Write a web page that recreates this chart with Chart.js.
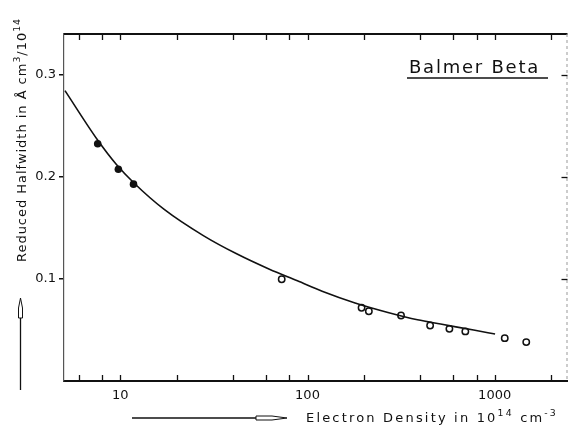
<!DOCTYPE html>
<html>
<head>
<meta charset="utf-8">
<script src="https://cdn.jsdelivr.net/npm/chart.js@4/dist/chart.umd.min.js"></script>
<style>
  html, body { margin: 0; padding: 0; background: #fff; }
  #wrap { width: 573px; height: 426px; }
</style>
</head>
<body>
<div id="wrap"><canvas id="chart" width="573" height="426"></canvas></div>
<script>
// fitted curve for the Balmer beta reduced halfwidth
const fitDensity = [5.06, 7.56, 9.53, 11.9, 17.15, 27.9, 41.8, 62.6, 88.3, 119.7, 179.5, 269, 387, 514, 772, 1005];
const fitWidth = [0.2845, 0.2361, 0.2121, 0.1935, 0.1681, 0.1422, 0.1246, 0.1095, 0.0982, 0.0880, 0.0765, 0.0672, 0.0600, 0.0558, 0.0499, 0.0460];

// measured points (filled = low density set, open = high density set)
const filledDensity = [7.57, 9.76, 11.76];
const filledWidth = [0.2324, 0.2075, 0.1929];
const openDensity = [72.8, 194.5, 212.7, 316, 452, 573, 697, 1132, 1475];
const openWidth = [0.0997, 0.0717, 0.0684, 0.0642, 0.0544, 0.0511, 0.0486, 0.0420, 0.0381];

// axes
const xTickValues = [6, 8, 10, 20, 40, 60, 80, 100, 200, 400, 600, 800, 1000, 2000];
const xLabelValues = [10, 100, 1000];
const xLabelTexts = ["10", "100", "1000"];
const yTickValues = [0.1, 0.2, 0.3];
const yLabelTexts = ["0.1", "0.2", "0.3"];

const FONT = "'DejaVu Sans', sans-serif";
const INK = "#111";

const toPoints = (xs, ys) => xs.map((x, i) => ({ x: x, y: ys[i] }));

// draws text runs with superscripts, stretched to a given length
function drawRuns(ctx, runs, x, y, size, length) {
    const measure = () => {
        let w = 0;
        runs.forEach((r) => {
            ctx.font = (r.sup ? size * 0.72 : size) + "px " + FONT;
            w += ctx.measureText(r.t).width;
        });
        return w;
    };
    ctx.letterSpacing = "0px";
    const chars = runs.reduce((n, r) => n + r.t.length, 0);
    const spacing = Math.max(0, (length - measure()) / chars);
    ctx.letterSpacing = spacing + "px";
    let cx = x;
    runs.forEach((r) => {
        ctx.font = (r.sup ? size * 0.72 : size) + "px " + FONT;
        ctx.fillText(r.t, cx, r.sup ? y - size * 0.48 : y);
        cx += ctx.measureText(r.t).width;
    });
    ctx.letterSpacing = "0px";
}

const frame = {
    id: "frame",
    afterDraw: (chart) => {
        const { ctx, chartArea } = chart;
        const xs = chart.scales.x;
        const ys = chart.scales.y;
        const { left, right, top, bottom } = chartArea;
        ctx.save();
        ctx.strokeStyle = INK;
        ctx.fillStyle = INK;

        // top and right frame
        ctx.lineWidth = 2;
        ctx.beginPath();
        ctx.moveTo(left, top);
        ctx.lineTo(right, top);
        ctx.stroke();
        ctx.lineWidth = 1;
        ctx.strokeStyle = "#999";
        ctx.setLineDash([3, 3]);
        ctx.beginPath();
        ctx.moveTo(right - 0.5, top);
        ctx.lineTo(right - 0.5, bottom);
        ctx.stroke();
        ctx.setLineDash([]);
        ctx.strokeStyle = INK;

        // inward minor ticks, bottom and top
        ctx.lineWidth = 1.3;
        xTickValues.forEach((v) => {
            const px = Math.round(xs.getPixelForValue(v)) + 0.5;
            ctx.beginPath();
            ctx.moveTo(px, bottom);
            ctx.lineTo(px, bottom - 6);
            ctx.moveTo(px, top);
            ctx.lineTo(px, top + 6);
            ctx.stroke();
        });
        // inward ticks on the right
        yTickValues.forEach((v) => {
            const py = Math.round(ys.getPixelForValue(v)) + 0.5;
            ctx.beginPath();
            ctx.moveTo(right, py);
            ctx.lineTo(right - 6, py);
            ctx.stroke();
        });

        // series label
        ctx.textBaseline = "alphabetic";
        ctx.textAlign = "left";
        drawRuns(ctx, [{ t: "Balmer Beta" }], 409, 73, 18, 131);
        ctx.lineWidth = 1.6;
        ctx.beginPath();
        ctx.moveTo(407, 78);
        ctx.lineTo(548, 78);
        ctx.stroke();

        // x axis title with arrow
        drawRuns(ctx, [
            { t: "Electron Density in 10" },
            { t: "14", sup: true },
            { t: " cm" },
            { t: "-3", sup: true },
        ], 306, 422, 13, 252);
        ctx.lineWidth = 1.3;
        ctx.beginPath();
        ctx.moveTo(132, 418);
        ctx.lineTo(256, 418);
        ctx.stroke();
        ctx.lineWidth = 1;
        ctx.beginPath();
        ctx.moveTo(256, 416);
        ctx.lineTo(272, 416);
        ctx.lineTo(287, 418);
        ctx.lineTo(272, 420);
        ctx.lineTo(256, 420);
        ctx.closePath();
        ctx.stroke();

        // y axis title with arrow
        ctx.save();
        ctx.translate(26, 262);
        ctx.rotate(-Math.PI / 2);
        drawRuns(ctx, [
            { t: "Reduced Halfwidth in Å cm" },
            { t: "3", sup: true },
            { t: "/10" },
            { t: "14", sup: true },
        ], 0, 0, 13, 244);
        ctx.restore();
        ctx.lineWidth = 1.3;
        ctx.beginPath();
        ctx.moveTo(20.5, 390);
        ctx.lineTo(20.5, 318);
        ctx.stroke();
        ctx.lineWidth = 1;
        ctx.beginPath();
        ctx.moveTo(18.5, 318);
        ctx.lineTo(18.5, 308);
        ctx.lineTo(20.5, 298);
        ctx.lineTo(22.5, 308);
        ctx.lineTo(22.5, 318);
        ctx.closePath();
        ctx.stroke();

        ctx.restore();
    },
};

new Chart(document.getElementById("chart"), {
    type: "scatter",
    data: {
        datasets: [
            {
                label: "fit",
                data: toPoints(fitDensity, fitWidth),
                showLine: true,
                borderColor: INK,
                borderWidth: 1.6,
                pointRadius: 0,
                cubicInterpolationMode: "monotone",
            },
            {
                label: "filled",
                data: toPoints(filledDensity, filledWidth),
                pointRadius: 3.8,
                pointBackgroundColor: INK,
                pointBorderColor: INK,
                pointBorderWidth: 0,
            },
            {
                label: "open",
                data: toPoints(openDensity, openWidth),
                pointRadius: 3.2,
                pointBackgroundColor: "#fff",
                pointBorderColor: INK,
                pointBorderWidth: 1.5,
            },
        ],
    },
    options: {
        responsive: false,
        animation: false,
        layout: { padding: { top: 34, right: 1, left: 0, bottom: 0 } },
        plugins: {
            legend: { display: false },
            tooltip: { enabled: false },
        },
        scales: {
            x: {
                type: "logarithmic",
                min: 5,
                max: 2450,
                afterFit: (s) => { s.height = 45; },
                afterBuildTicks: (s) => {
                    s.ticks = xLabelValues.map((v) => ({ value: v }));
                },
                grid: { display: false, drawTicks: false },
                border: { display: true, color: INK, width: 2 },
                ticks: {
                    autoSkip: false,
                    maxRotation: 0,
                    padding: 7,
                    color: INK,
                    font: { family: FONT, size: 13 },
                    callback: (v) => xLabelTexts[xLabelValues.indexOf(v)],
                },
            },
            y: {
                min: 0,
                max: 0.34,
                afterFit: (s) => { s.width = 64; },
                afterBuildTicks: (s) => {
                    s.ticks = yTickValues.map((v) => ({ value: v }));
                },
                grid: {
                    drawOnChartArea: false,
                    tickLength: 5,
                    color: INK,
                    lineWidth: 1.5,
                },
                border: { display: true, color: "#555", width: 1.2 },
                ticks: {
                    padding: 3,
                    color: INK,
                    font: { family: FONT, size: 13 },
                    callback: (v) => yLabelTexts[yTickValues.indexOf(v)],
                },
            },
        },
    },
    plugins: [frame],
});
</script>
</body>
</html>
